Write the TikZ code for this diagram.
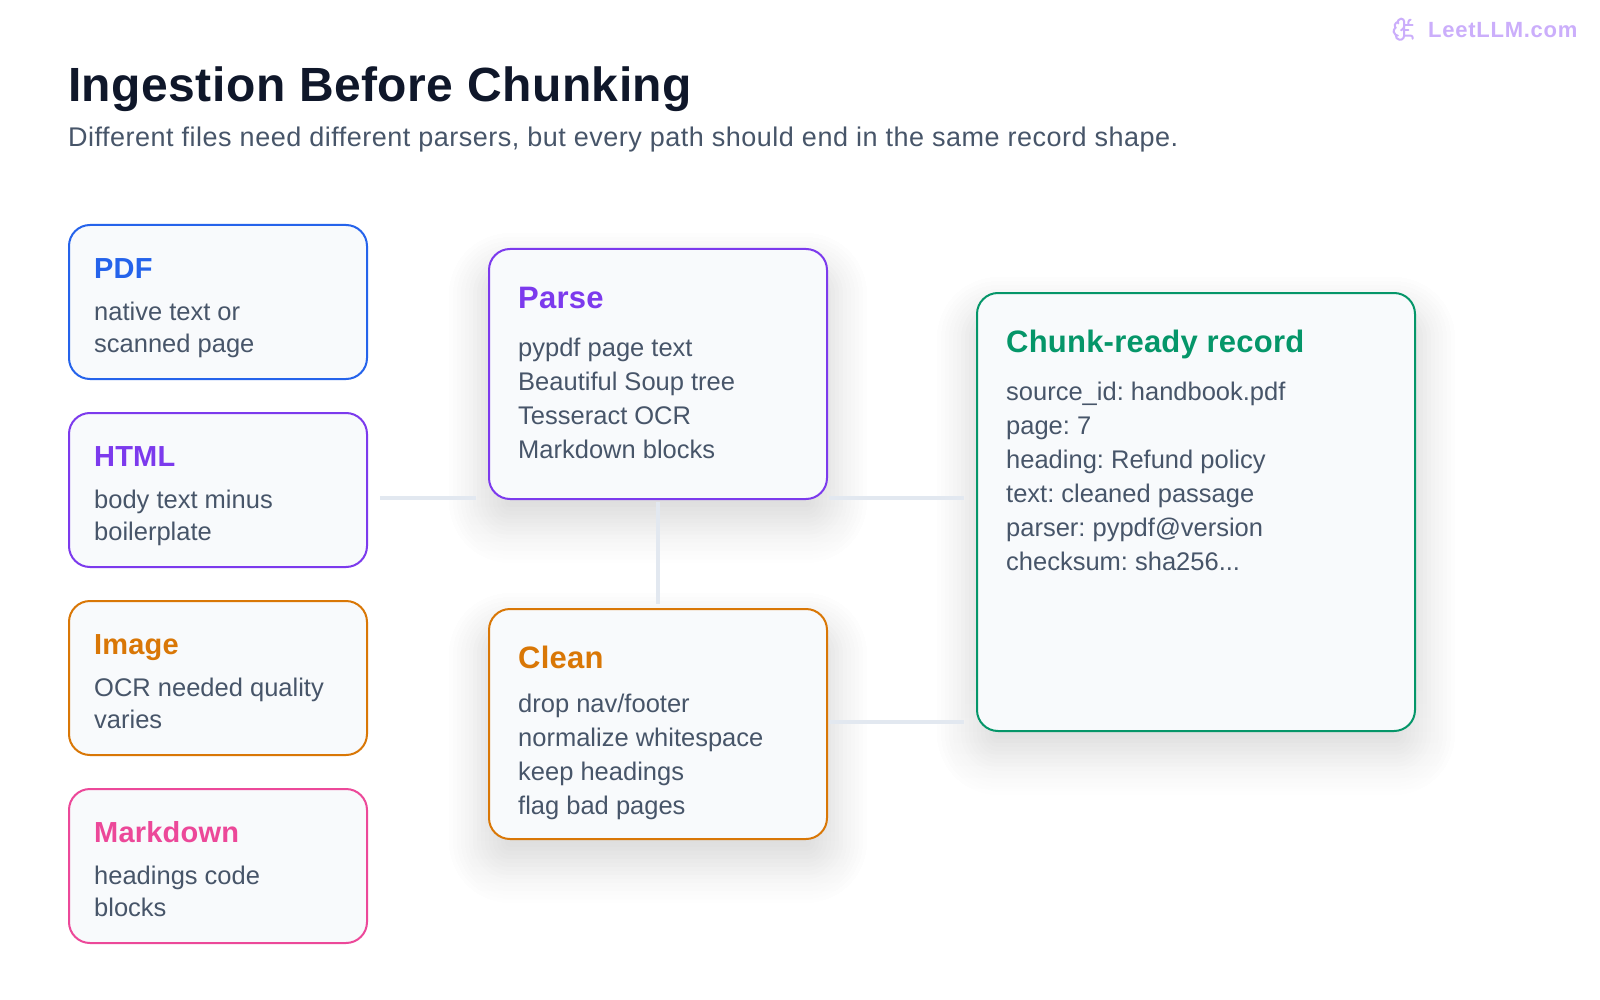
\documentclass[tikz,border=0pt]{standalone}
\usepackage{fontspec}
\usetikzlibrary{svg.path}
\setmainfont{Liberation Sans}
\newfontfamily\titlefont[LetterSpace=1]{Liberation Sans}
\newfontfamily\subfont[LetterSpace=1.85]{Liberation Sans}
\newfontfamily\headfont[LetterSpace=0.7]{Liberation Sans}
\newfontfamily\brandfont[LetterSpace=3.4]{Liberation Sans}
\frenchspacing
\definecolor{ink}{HTML}{0F172A}
\definecolor{slatetext}{HTML}{475569}
\definecolor{panel}{HTML}{F8FAFC}
\definecolor{wire}{HTML}{E2E8F0}
\definecolor{cblue}{HTML}{2563EB}
\definecolor{cpurple}{HTML}{7C3AED}
\definecolor{corange}{HTML}{D97706}
\definecolor{cpink}{HTML}{EC4899}
\definecolor{cgreen}{HTML}{059669}
\definecolor{logo}{HTML}{CBAEFB}
\definecolor{shade}{HTML}{1E1B4B}
\tikzset{
  x=1pt,y=-1pt,
  panelbox/.style={draw=#1,fill=panel,line width=2pt,rounded corners=21pt,inner sep=0pt,outer sep=0pt,anchor=north west},
  heading/.style={anchor=base west,inner sep=0pt,font=\headfont\bfseries\fontsize{#1}{#1}\selectfont},
  bodytext/.style={anchor=base west,inner sep=0pt,align=left,text=slatetext,font=\fontsize{25.5}{#1}\selectfont},
  wireline/.style={draw=wire,line width=4pt},
  iconline/.style={draw=logo,line width=2pt,line cap=round,line join=round},
}
\newcommand{\softshadow}[4]{%
  \foreach \k in {0,...,30}{
    \pgfmathsetmacro{\dd}{60-4*\k}
    \pgfmathsetmacro{\rr}{max(21+\dd,4)}
    \pgfmathsetmacro{\oo}{0.0075*exp(-((\k-15)/9)^2)}
    \fill[shade,opacity=\oo,rounded corners=\rr pt]
      (#1-\dd,#2+24-\dd) rectangle (#3+\dd,#4+24+\dd);
  }}
\begin{document}
\begin{tikzpicture}
\useasboundingbox (0,0) rectangle (1600,1000);
\fill[white] (0,0) rectangle (1600,1000);

\softshadow{489}{249}{827}{499}
\softshadow{489}{609}{827}{839}
\softshadow{977}{293}{1415}{731}

\coordinate (a1) at (380,498);
\coordinate (a2) at (476,498);
\coordinate (b1) at (829,498);
\coordinate (b2) at (964,498);
\coordinate (c1) at (829,722);
\coordinate (c2) at (964,722);
\draw[wireline] (a1) -- (a2);
\draw[wireline] (b1) -- (b2);
\draw[wireline] (c1) -- (c2);

\node[panelbox=cblue,minimum width=298pt,minimum height=154pt] (pdf) at (69,225) {};
\node[panelbox=cpurple,minimum width=298pt,minimum height=154pt] (html) at (69,413) {};
\node[panelbox=corange,minimum width=298pt,minimum height=154pt] (image) at (69,601) {};
\node[panelbox=cpink,minimum width=298pt,minimum height=154pt] (markdown) at (69,789) {};
\node[panelbox=cpurple,minimum width=338pt,minimum height=250pt] (parse) at (489,249) {};
\node[panelbox=corange,minimum width=338pt,minimum height=230pt] (clean) at (489,609) {};
\node[panelbox=cgreen,minimum width=438pt,minimum height=438pt] (record) at (977,293) {};
\draw[wireline,shorten <=3pt,shorten >=5pt] (parse.south) -- (clean.north);

\node[anchor=base west,inner sep=0pt,text=ink,font=\titlefont\bfseries\fontsize{48}{48}\selectfont] (title) at (68,102) {Ingestion Before Chunking};
\node[anchor=base west,inner sep=0pt,text=slatetext,font=\subfont\fontsize{27}{27}\selectfont] (subtitle) at (68,147) {Different files need different parsers, but every path should end in the same record shape.};

\node[heading=29,text=cblue] (pdfh) at (94,278) {PDF};
\node[bodytext=32] (pdfb) at (94,352) {native text or\\scanned page};
\node[heading=29,text=cpurple] (htmlh) at (94,466) {HTML};
\node[bodytext=32] (htmlb) at (94,540) {body text minus\\boilerplate};
\node[heading=29,text=corange] (imageh) at (94,654) {Image};
\node[bodytext=32] (imageb) at (94,728) {OCR needed quality\\varies};
\node[heading=29,text=cpink] (markdownh) at (94,842) {Markdown};
\node[bodytext=32] (markdownb) at (94,916) {headings code\\blocks};

\node[heading=31,text=cpurple] (parseh) at (518,308) {Parse};
\node[bodytext=34] (parseb) at (518,458) {pypdf page text\\Beautiful Soup tree\\Tesseract OCR\\Markdown blocks};
\node[heading=31,text=corange] (cleanh) at (518,668) {Clean};
\node[bodytext=34] (cleanb) at (518,814.5) {drop nav/footer\\normalize whitespace\\keep headings\\flag bad pages};
\node[heading=31,text=cgreen] (recordh) at (1006,352) {Chunk-ready record};
\node[bodytext=34] (recordb) at (1006,570) {source\_id: handbook.pdf\\page: 7\\heading: Refund policy\\text: cleaned passage\\parser: pypdf@version\\checksum: sha256...};

\begin{scope}[shift={(1391.5,16.5)},scale=1.06,yscale=-1]
\draw[iconline] svg {M 12 5 a 3 3 0 1 0 -5.997 0.125 a 4 4 0 0 0 -2.526 5.77 a 4 4 0 0 0 0.556 6.588 A 4 4 0 1 0 12 18 Z};
\draw[iconline] svg {M 9 13 a 4.5 4.5 0 0 0 3 -4};
\draw[iconline] svg {M 6.003 5.125 A 3 3 0 0 0 6.401 6.5};
\draw[iconline] svg {M 3.477 10.896 a 4 4 0 0 1 0.585 -0.396};
\draw[iconline] svg {M 6 18 a 4 4 0 0 1 -1.967 -0.516};
\draw[iconline] svg {M 12 13 h 4};
\draw[iconline] svg {M 12 18 h 6 a 2 2 0 0 1 2 2 v 1};
\draw[iconline] svg {M 12 8 h 8};
\draw[iconline] svg {M 16 8 V 5 a 2 2 0 0 1 2 -2};
\end{scope}
\node[anchor=base west,inner sep=0pt,text=logo,font=\brandfont\bfseries\fontsize{22}{22}\selectfont] (brand) at (1428,38) {LeetLLM.com};
\end{tikzpicture}
\end{document}
